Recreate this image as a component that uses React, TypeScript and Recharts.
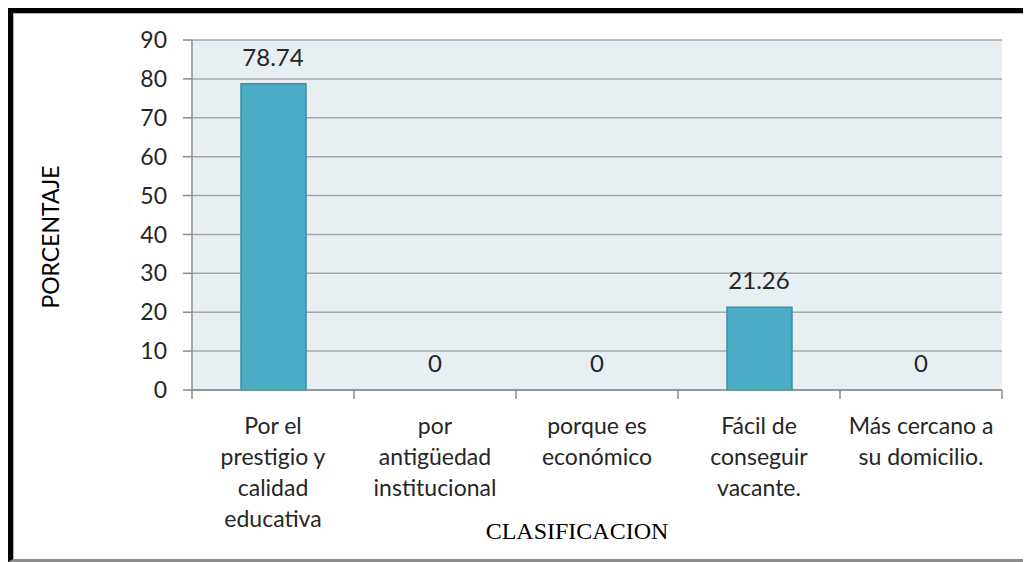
import { ComposedChart, Bar, Line, XAxis, YAxis, CartesianGrid, LabelList, Label } from "recharts";

const categories = [
  "Por el prestigio y calidad educativa",
  "por antigüedad institucional",
  "porque es económico",
  "Fácil de conseguir vacante.",
  "Más cercano a su domicilio.",
];

// line breaks as in the original axis labels
const categoryLines = [
  ["Por el", "prestigio y", "calidad", "educativa"],
  ["por", "antigüedad", "institucional"],
  ["porque es", "económico"],
  ["Fácil de", "conseguir", "vacante."],
  ["Más cercano a", "su domicilio."],
];

const percentages = [78.74, 0, 0, 21.26, 0];

const yTicks = [0, 10, 20, 30, 40, 50, 60, 70, 80, 90];

const data = categories.map((name, i) => ({ name, value: percentages[i] }));

const FONT = "Lato, 'Open Sans', sans-serif";
const TEXT = "#262626";
const AXIS = "#8c8c8c";

function CategoryTick(props: any) {
  const { x, y, payload, index } = props;
  const half = payload.offset ?? 0;
  const axisY = y - 9;
  const lines: string[] = categoryLines[index] ?? [String(payload.value)];
  return (
    <g>
      <line x1={x - half} y1={axisY} x2={x - half} y2={axisY + 9} stroke={AXIS} strokeWidth={1.5} />
      {index === categories.length - 1 && (
        <line x1={x + half} y1={axisY} x2={x + half} y2={axisY + 9} stroke={AXIS} strokeWidth={1.5} />
      )}
      <text x={x} y={y + 35} textAnchor="middle" fill={TEXT} fontFamily={FONT} fontSize={23}>
        {lines.map((l, i) => (
          <tspan key={i} x={x} dy={i === 0 ? 0 : 31}>
            {l}
          </tspan>
        ))}
      </text>
    </g>
  );
}

export default function App() {
  return (
    <div
      style={{
        width: 1018,
        borderTop: "5px solid #000",
        borderLeft: "5px solid #000",
        borderBottom: "3px solid #8c8c8c",
        background: "#fff",
      }}
    >
      <div style={{ borderTop: "1px solid #b0b0b0", borderLeft: "1px solid #b0b0b0" }}>
        <ComposedChart width={1017} height={545} data={data} margin={{ top: 26, right: 29, left: 18, bottom: 0 }}>
          <CartesianGrid vertical={false} stroke="#a6a6a6" strokeWidth={1.5} fill="#e8eff3" fillOpacity={1} />
          <XAxis
            dataKey="name"
            type="category"
            height={169}
            axisLine={{ stroke: AXIS, strokeWidth: 1.5 }}
            tickLine={false}
            tickSize={9}
            tickMargin={0}
            interval={0}
            tick={<CategoryTick />}
          >
            <Label
              content={(p: any) => {
                const vb = p.viewBox;
                return (
                  <text
                    x={vb.x + vb.width / 2 - 20}
                    y={vb.y + vb.height - 20}
                    textAnchor="middle"
                    fill="#000"
                    fontFamily="'Liberation Serif', 'Times New Roman', serif"
                    fontSize={24}
                  >
                    CLASIFICACION
                  </text>
                );
              }}
            />
          </XAxis>
          <YAxis
            width={160}
            domain={[0, 90]}
            ticks={yTicks}
            interval={0}
            axisLine={{ stroke: AXIS, strokeWidth: 1.5 }}
            tickLine={{ stroke: AXIS, strokeWidth: 1.5 }}
            tickSize={9}
            tickMargin={16}
            tick={{ fill: TEXT, fontFamily: FONT, fontSize: 23 }}
          >
            <Label
              content={(p: any) => {
                const vb = p.viewBox;
                const x = vb.x + 18;
                const y = vb.y + vb.height / 2 + 22;
                return (
                  <text
                    x={x}
                    y={y}
                    transform={`rotate(-90 ${x} ${y})`}
                    textAnchor="middle"
                    dominantBaseline="central"
                    fill="#000"
                    fontFamily={FONT}
                    fontSize={23}
                  >
                    PORCENTAJE
                  </text>
                );
              }}
            />
          </YAxis>
          <Bar dataKey="value" barSize={65} fill="#4bacc6" stroke="#3a8ea6" strokeWidth={1.5} isAnimationActive={false} />
          {/* invisible line only carries the value labels, so zero bars get their "0" too */}
          <Line dataKey="value" stroke="none" dot={false} activeDot={false} isAnimationActive={false}>
            <LabelList dataKey="value" position="top" offset={18} fill={TEXT} fontFamily={FONT} fontSize={24} />
          </Line>
        </ComposedChart>
      </div>
    </div>
  );
}
